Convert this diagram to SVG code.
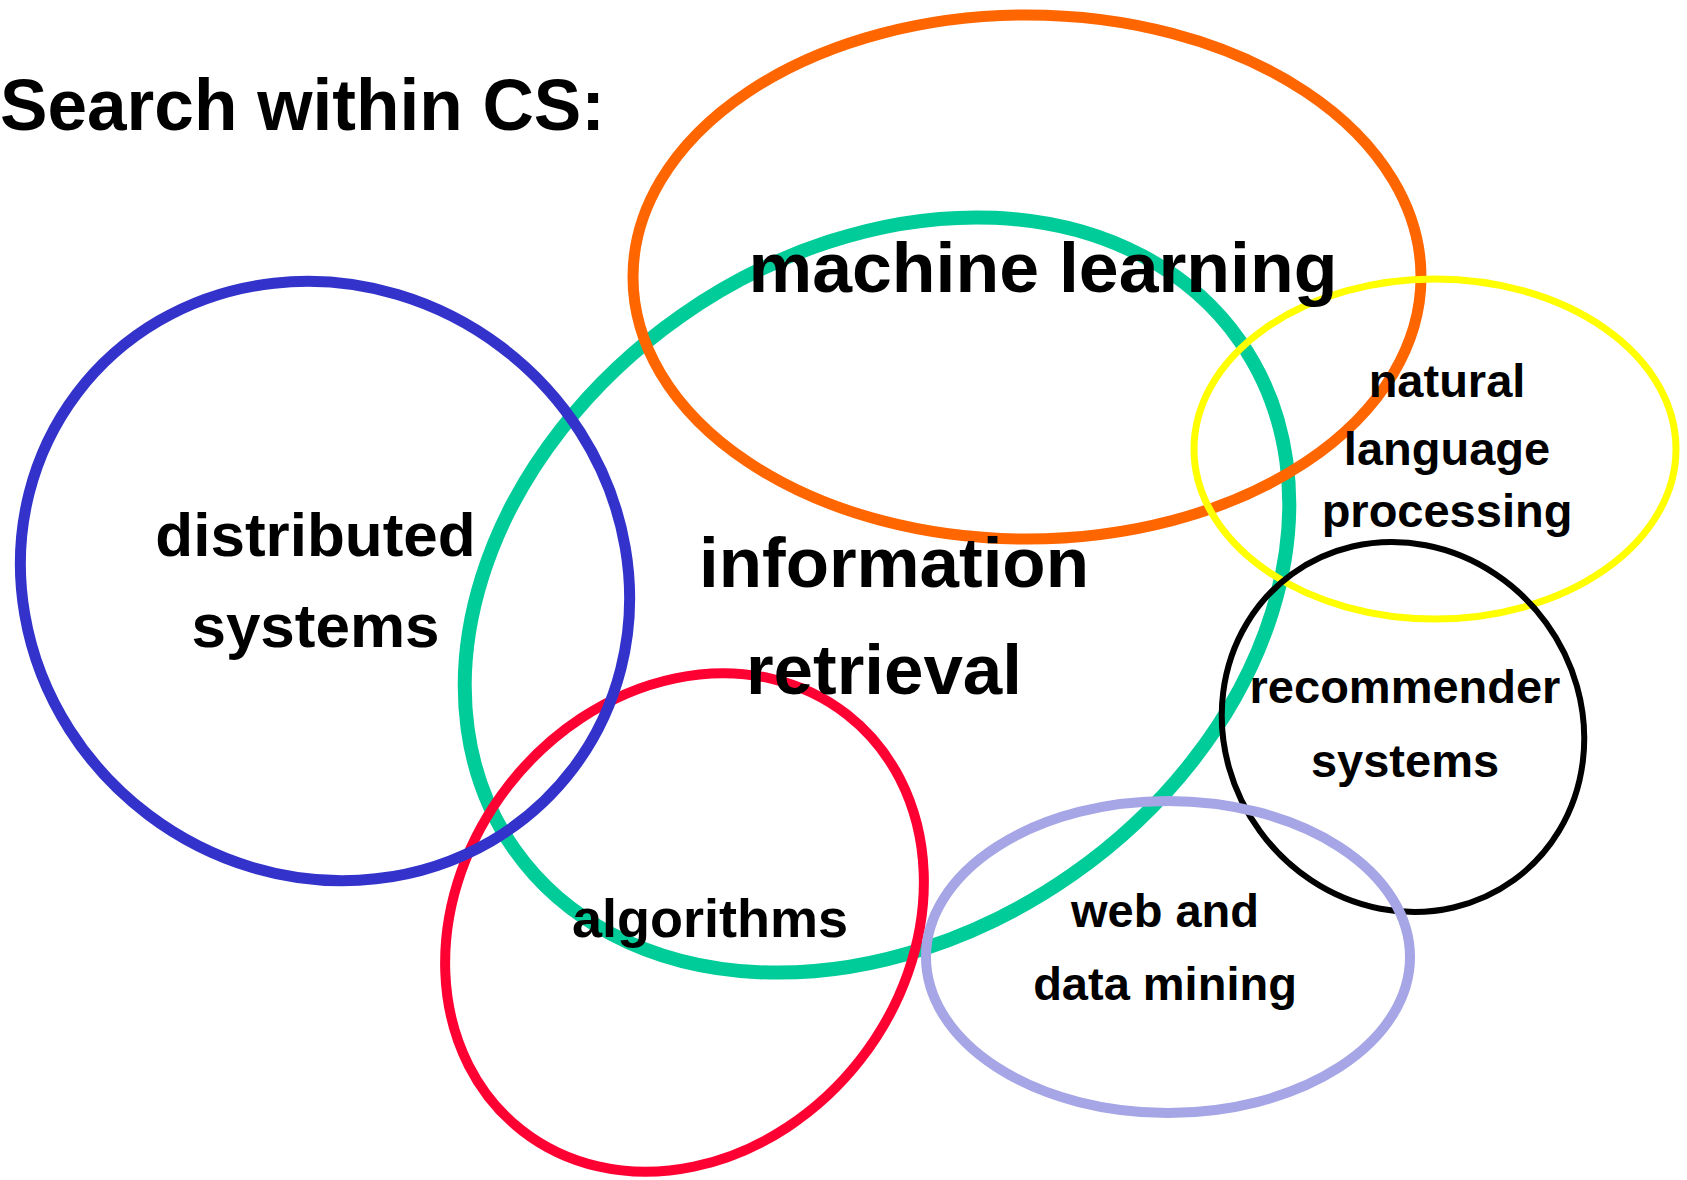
<svg xmlns="http://www.w3.org/2000/svg" width="1687" height="1180" viewBox="0 0 1687 1180">
  <style>
    .ring { fill: none; }
    .lbl { font-family: "Liberation Sans", Arial, Helvetica, sans-serif; font-weight: bold; fill: #000; text-anchor: middle; }
    .big { font-size: 71px; }
    .mid { font-size: 62px; }
    .alg { font-size: 54px; }
    .sm { font-size: 47px; }
  </style>
  <rect width="1687" height="1180" fill="#fff"/>

  <!-- shapes -->
  <g id="node-ir"><ellipse class="ring" cx="877" cy="595" rx="443" ry="341" transform="rotate(-35 877 595)" stroke="#00cc99" stroke-width="14"/></g>
  <g id="node-alg"><ellipse class="ring" cx="684.5" cy="922.5" rx="264" ry="223" transform="rotate(-52 684.5 922.5)" stroke="#ff0033" stroke-width="10"/></g>
  <g id="node-ds"><ellipse class="ring" cx="325" cy="581" rx="311" ry="293" transform="rotate(37 325 581)" stroke="#3333cc" stroke-width="11"/></g>
  <g id="node-ml"><ellipse class="ring" cx="1027" cy="277" rx="394" ry="262" stroke="#ff6600" stroke-width="11"/></g>
  <g id="node-nlp"><ellipse class="ring" cx="1435" cy="449" rx="241" ry="170" stroke="#ffff00" stroke-width="7"/></g>
  <g id="node-rs"><ellipse class="ring" cx="1403" cy="727" rx="189" ry="177" transform="rotate(54 1403 727)" stroke="#000" stroke-width="6"/></g>
  <g id="node-wdm"><ellipse class="ring" cx="1168" cy="957" rx="242" ry="156" stroke="#a6a6e6" stroke-width="10"/></g>

  <!-- labels -->
  <g id="title"><text class="lbl" x="0" y="130" style="text-anchor:start;font-size:72px" textLength="605" lengthAdjust="spacingAndGlyphs">Search within CS:</text></g>
  <g id="label-ml"><text class="lbl big" x="1043" y="292" textLength="589" lengthAdjust="spacingAndGlyphs">machine learning</text></g>
  <g id="label-ir"><text class="lbl big" x="894" y="587" textLength="390" lengthAdjust="spacingAndGlyphs">information</text><text class="lbl big" x="884" y="694" textLength="276" lengthAdjust="spacingAndGlyphs">retrieval</text></g>
  <g id="label-ds"><text class="lbl mid" x="315.5" y="556">distributed</text><text class="lbl mid" x="315.5" y="647">systems</text></g>
  <g id="label-alg"><text class="lbl alg" x="710" y="937">algorithms</text></g>
  <g id="label-nlp"><text class="lbl sm" x="1447" y="397">natural</text><text class="lbl sm" x="1447" y="465">language</text><text class="lbl sm" x="1447" y="527">processing</text></g>
  <g id="label-rs"><text class="lbl sm" x="1405" y="703">recommender</text><text class="lbl sm" x="1405" y="777">systems</text></g>
  <g id="label-wdm"><text class="lbl sm" x="1165" y="927">web and</text><text class="lbl sm" x="1165" y="1000">data mining</text></g>
</svg>
